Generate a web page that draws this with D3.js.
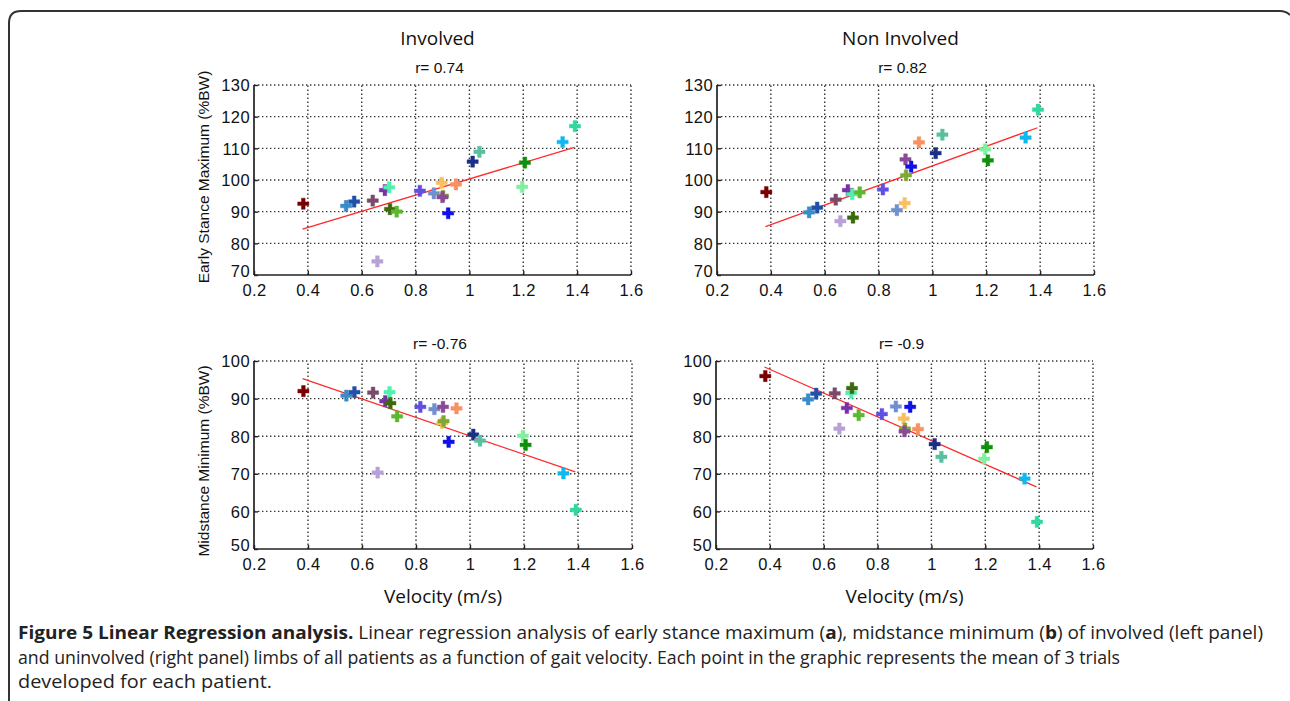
<!DOCTYPE html>
<html><head><meta charset="utf-8">
<script src="https://cdn.jsdelivr.net/npm/d3@7"></script>
<style>body{margin:0;background:#fff}svg{display:block}</style>
</head><body>
<script>
// ---- data ----
const velocity = [0.383,0.542,0.572,0.641,0.658,0.686,0.702,0.705,0.73,0.816,0.868,0.897,0.902,0.900,0.921,0.95,1.012,1.037,1.196,1.206,1.346,1.392];
const patientColors = ["#7a0000","#3a8cc8","#2050a8","#7a4a6a","#b8a0d8","#7a30a8","#50f0b0","#3a6a0a","#5cb830","#6050e0","#7090d0","#f8c060","#80a830","#8a4a98","#1010e8","#f89060","#1a3088","#58c0a0","#80f0a0","#10900a","#10b8f0","#30d8a0"];
const esmInvolved    = [92.5,91.8,93.2,93.5,74.3,96.8,97.7,90.8,90.0,96.6,95.8,99.1,95.0,94.6,89.5,98.6,105.8,108.9,97.8,105.5,112.0,117.0];
const esmNonInvolved = [96.2,89.8,91.3,93.8,87.0,96.8,95.5,88.1,96.1,97.0,90.5,92.7,101.5,106.5,104.2,111.9,108.5,114.3,109.7,106.2,113.4,122.2];
const msmInvolved    = [92.0,90.8,91.7,91.6,70.3,89.3,91.7,88.8,85.3,87.8,87.2,83.5,84.0,87.8,78.5,87.4,80.4,78.8,80.1,77.7,70.1,60.4];
const msmNonInvolved = [96.0,89.8,91.3,91.4,82.0,87.5,91.5,92.8,85.6,85.9,87.9,84.7,82.0,81.3,87.8,81.9,77.9,74.5,74.0,77.1,68.7,57.2];
// regression fit endpoints [x0,y0,x1,y1]
const fitEsmInvolved    = [0.38,84.5,1.39,110.3];
const fitEsmNonInvolved = [0.38,85.3,1.39,116.5];
const fitMsmInvolved    = [0.38,95.3,1.39,70.5];
const fitMsmNonInvolved = [0.38,98.4,1.39,66.5];
const rLabels = ["r= 0.74","r= 0.82","r= -0.76","r= -0.9"];
const columnTitles = ["Involved","Non Involved"];
const yLabels = ["Early Stance Maximum (%BW)","Midstance Minimum (%BW)"];
const xLabel = "Velocity (m/s)";
const xTicks = [0.2,0.4,0.6,0.8,1,1.2,1.4,1.6];
const yTicksESM = [70,80,90,100,110,120,130];
const yTicksMSM = [50,60,70,80,90,100];
const captionLines = [
  [["Figure 5 Linear Regression analysis.",true],[" Linear regression analysis of early stance maximum (",false],["a",true],["), midstance minimum (",false],["b",true],[") of involved (left panel)",false]],
  [["and uninvolved (right panel) limbs of all patients as a function of gait velocity. Each point in the graphic represents the mean of 3 trials",false]],
  [["developed for each patient.",false]]
];

// ---- layout ----
const W=1290,H=701;
const svg=d3.select("body").append("svg").attr("width",W).attr("height",H);

// frame
svg.append("path")
  .attr("d","M9,701 L9,23 Q9,11 21,11 L1280,11 Q1286,11 1290,15")
  .attr("fill","none").attr("stroke","#333").attr("stroke-width",2);

const panels=[
  {l:254,r:631,t:85,b:275,ys:yTicksESM,y:esmInvolved,fit:fitEsmInvolved,rl:rLabels[0]},
  {l:717,r:1094,t:85,b:275,ys:yTicksESM,y:esmNonInvolved,fit:fitEsmNonInvolved,rl:rLabels[1]},
  {l:254,r:632,t:361,b:549,ys:yTicksMSM,y:msmInvolved,fit:fitMsmInvolved,rl:rLabels[2]},
  {l:716,r:1093,t:361,b:549,ys:yTicksMSM,y:msmNonInvolved,fit:fitMsmNonInvolved,rl:rLabels[3]}
];
const tickFont="'Liberation Sans', Arial, sans-serif";
const labFont="'Open Sans', 'DejaVu Sans', sans-serif";

panels.forEach((p,i)=>{
  const x=d3.scaleLinear().domain([0.2,1.6]).range([p.l,p.r]);
  const y=d3.scaleLinear().domain([p.ys[0],p.ys[p.ys.length-1]]).range([p.b,p.t]);
  const g=svg.append("g");
  // grid
  g.selectAll(".gx").data(xTicks.slice(1)).join("line")
    .attr("x1",d=>x(d)).attr("x2",d=>x(d)).attr("y1",p.b).attr("y2",p.t)
    .attr("stroke","#333").attr("stroke-width",1.4).attr("stroke-dasharray","1.4,2.6");
  g.selectAll(".gy").data(p.ys.slice(1)).join("line")
    .attr("y1",d=>y(d)).attr("y2",d=>y(d)).attr("x1",p.l).attr("x2",p.r)
    .attr("stroke","#333").attr("stroke-width",1.4).attr("stroke-dasharray","1.4,2.6");
  // axes
  const ax=d3.axisBottom(x).tickValues(xTicks).tickSize(-4).tickPadding(9).tickFormat(d3.format("~g"));
  const ay=d3.axisLeft(y).tickValues(p.ys).tickSize(-4).tickPadding(4).tickFormat(d3.format("~g"));
  const gx=g.append("g").attr("transform",`translate(0,${p.b})`).call(ax);
  const gy=g.append("g").attr("transform",`translate(${p.l},0)`).call(ay);
  [gx,gy].forEach(a=>{
    a.select(".domain").attr("stroke","#222").attr("stroke-width",1.7).attr("d", a===gx?`M${p.l},0H${p.r}`:`M0,${p.t}V${p.b}`);
    a.selectAll(".tick line").attr("stroke","#222").attr("stroke-width",1.4);
    a.selectAll("text").attr("font-family",tickFont).attr("font-size",16.5).attr("fill","#111").attr("letter-spacing",0.4);
  });
  gy.selectAll(".tick text").attr("dy",(d,k)=>k===0?"0.1em":"0.36em");
  // fit line
  g.append("line")
    .attr("x1",x(p.fit[0])).attr("y1",y(p.fit[1])).attr("x2",x(p.fit[2])).attr("y2",y(p.fit[3]))
    .attr("stroke","#ff2a2a").attr("stroke-width",1.3);
  // points
  const sym=d3.symbol().type(d3.symbolCross).size(70);
  g.selectAll(".pt").data(velocity.map((v,k)=>({v,val:p.y[k],c:patientColors[k]}))).join("path")
    .attr("d",sym).attr("transform",d=>`translate(${x(d.v)},${y(d.val)})`)
    .attr("fill",d=>d.c).attr("stroke",d=>d.c).attr("stroke-width",0.8).attr("stroke-opacity",0.5);
  // r label
  svg.append("text").attr("x",(p.l+p.r)/2-3).attr("y",p.t-12).attr("text-anchor","middle")
    .attr("font-family",tickFont).attr("font-size",15.5).attr("fill","#111").text(p.rl);
  // column title
  if(i<2){
    svg.append("text").attr("x",(p.l+p.r)/2-5).attr("y",45).attr("text-anchor","middle")
      .attr("font-family",labFont).attr("font-size",19).attr("fill","#111").text(columnTitles[i]);
  } else {
    svg.append("text").attr("x",(p.l+p.r)/2).attr("y",603).attr("text-anchor","middle")
      .attr("font-family",labFont).attr("font-size",19).attr("fill","#111").text(xLabel);
  }
  if(i%2===0){
    svg.append("text").attr("transform",`translate(209,${(p.t+p.b)/2+ (i===0?-3:6)}) rotate(-90)`)
      .attr("text-anchor","middle").attr("font-family",tickFont).attr("font-size",15.5).attr("fill","#111")
      .text(yLabels[i/2]);
  }
});

// caption
const capW=[1245,1102,254];
captionLines.forEach((line,li)=>{
  const t=svg.append("text").attr("x",18).attr("y",639+li*24.5)
    .attr("font-family",labFont).attr("font-size",18).attr("fill","#222")
    .attr("textLength",capW[li]).attr("lengthAdjust","spacingAndGlyphs");
  line.forEach(([s,b])=>t.append("tspan").attr("font-weight",b?"bold":"normal").text(s));
});
</script>
</body></html>
